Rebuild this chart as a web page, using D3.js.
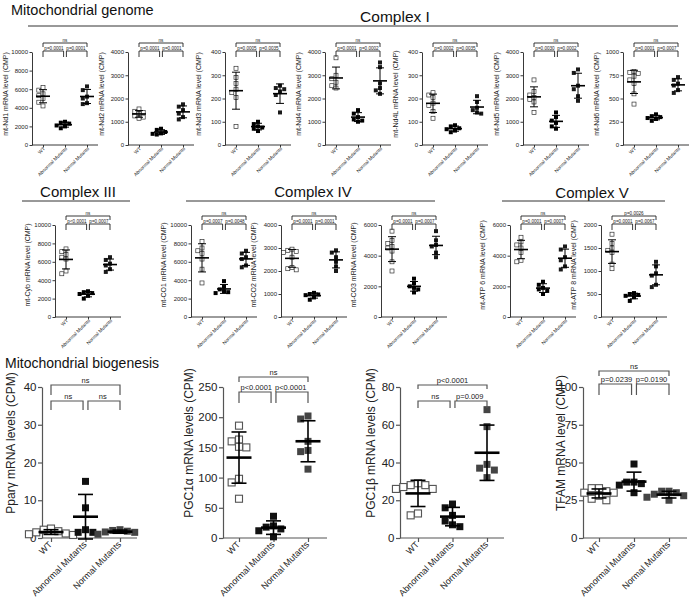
<!DOCTYPE html>
<html><head><meta charset="utf-8">
<script src="https://cdn.jsdelivr.net/npm/d3@7/dist/d3.min.js"></script>
<style>body{margin:0;background:#fff} svg{display:block;font-family:"Liberation Sans",Arial,sans-serif}</style>
</head><body><svg id="c" width="690" height="599"></svg>
<script>
const groups = ["WT", "Abnormal Mutants", "Normal Mutants"];

// Complex I
const nd1WT = [6200, 5900, 5500, 5300, 5000, 4600, 4200], nd1Abn = [2500, 2400, 2300, 2100, 2000, 1800], nd1Norm = [6300, 5900, 5200, 5000, 4500, 4400];
const nd2WT = [1550, 1450, 1400, 1350, 1250, 1200, 1150], nd2Abn = [700, 650, 560, 500, 480, 450], nd2Norm = [1750, 1650, 1500, 1350, 1200, 1100];
const nd3WT = [330, 290, 265, 240, 225, 205, 80], nd3Abn = [100, 90, 80, 75, 70, 60], nd3Norm = [255, 245, 240, 230, 215, 140];
const nd4WT = [3750, 3000, 2850, 2700, 2550, 2450], nd4Abn = [1500, 1350, 1200, 1100, 1050, 1000], nd4Norm = [3550, 3350, 2650, 2450, 2350, 2200];
const nd4lWT = [225, 215, 205, 180, 170, 145, 115], nd4lAbn = [85, 80, 72, 68, 62, 55], nd4lNorm = [210, 185, 160, 150, 140, 135];
const nd5WT = [2800, 2300, 2150, 2050, 1950, 1850, 1400], nd5Abn = [1400, 1200, 1050, 950, 800, 700], nd5Norm = [3250, 3100, 2550, 2400, 2100, 1900];
const nd6WT = [790, 780, 770, 740, 700, 660, 550, 440], nd6Abn = [330, 310, 300, 290, 280, 260], nd6Norm = [730, 700, 660, 640, 590, 560];
// Complex III, IV, V
const cybWT = [7400, 7100, 6800, 6500, 6300, 5000, 4700], cybAbn = [2800, 2700, 2600, 2500, 2300, 2000], cybNorm = [6500, 6200, 5800, 5600, 5200, 4900];
const co1WT = [8200, 7500, 7200, 6900, 6300, 5200, 3700], co1Abn = [3900, 3300, 3000, 2800, 2700, 2600], co1Norm = [7200, 6900, 6500, 6300, 5600, 5400];
const co2WT = [2950, 2900, 2850, 2800, 2600, 2150, 2100, 2050], co2Abn = [1050, 1000, 980, 950, 850, 750], co2Norm = [2900, 2800, 2600, 2400, 2200, 2000];
const co3WT = [5600, 5000, 4800, 4600, 4500, 4300, 3600, 3000], co3Abn = [2500, 2200, 2000, 1900, 1800, 1600], co3Norm = [5600, 5000, 4700, 4600, 4200, 3900];
const atp6WT = [5200, 4900, 4700, 4500, 4200, 3700, 3600], atp6Abn = [2300, 2100, 1900, 1800, 1700, 1500], atp6Norm = [4600, 4400, 3900, 3700, 3300, 3100];
const atp8WT = [1800, 1600, 1500, 1450, 1400, 1150, 1050], atp8Abn = [520, 500, 480, 460, 430, 350], atp8Norm = [1200, 1100, 950, 900, 700, 650];
// Mitochondrial biogenesis
const pparWT = [2.5, 2.2, 1.8, 1.5, 1.2, 1.0, 0.8], pparAbn = [15, 8, 2.2, 1.5, 1.5], pparNorm = [2.2, 2.0, 1.8, 1.6, 1.5, 1.0];
const pgc1aWT = [186, 163, 160, 151, 150, 98, 92, 65], pgc1aAbn = [36, 20, 18, 15, 12, 2], pgc1aNorm = [202, 197, 160, 145, 143, 114];
const pgc1bWT = [29, 28, 28, 27, 26, 26, 13, 12], pgc1bAbn = [18, 16, 12, 9, 7, 6], pgc1bNorm = [68, 59, 39, 37, 36, 32];
const tfamWT = [33, 33, 31, 30, 30, 28, 26, 25], tfamAbn = [49, 37, 37, 36, 35, 30], tfamNorm = [31, 31, 30, 29, 28, 27, 25];

// tick labels
const t10k = [0, 2000, 4000, 6000, 8000, 10000], t4k = [0, 1000, 2000, 3000, 4000], t400 = [0, 100, 200, 300, 400];
const t1k = [0, 250, 500, 750, 1000], t6k = [0, 2000, 4000, 6000], t2k = [0, 500, 1000, 1500, 2000];
const t40 = [0, 10, 20, 30, 40], t250 = [0, 50, 100, 150, 200, 250], t80 = [0, 20, 40, 60, 80], t100 = [0, 25, 50, 75, 100];

const svg = d3.select("#c");

const small = {tickFs: 6, labFs: 7, xFs: 4.8, pFs: 4.6, tick: 2.5, ms: 4, meanW: 14, meanT: 1.6, capW: 8, sdT: 1, axW: 0.9, xlx: -1.5, xly: 2.5,
  wtStroke: "#222", wtFill: "#fff", abnFill: "#000", normFill: "#1a1a1a", axColor: "#222"};
const big = {tickFs: 11.5, labFs: 12, xFs: 9, pFs: 7.5, tick: 4, ms: 7, meanW: 25, meanT: 2.6, capW: 15, sdT: 1.6, axW: 1.2, xlx: -4.2, xly: 2.6,
  wtStroke: "#555", wtFill: "#fff", abnFill: "#111", normFill: "#444", axColor: "#555"};

const topAx = [32, 128, 225, 325, 422, 523, 623];
const topPanels = [
  {label: "mt-Nd1 mRNA level (CMP)", data: [nd1WT, nd1Abn, nd1Norm], max: 10000, ticks: t10k, p: ["ns", "p=0.0001", "p=0.0001"]},
  {label: "mt-Nd2 mRNA level (CMP)", data: [nd2WT, nd2Abn, nd2Norm], max: 4000, ticks: t4k, p: ["ns", "p=0.0001", "p=0.0001"]},
  {label: "mt-Nd3 mRNA level (CMP)", data: [nd3WT, nd3Abn, nd3Norm], max: 400, ticks: t400, p: ["ns", "p=0.0005", "p=0.0035"]},
  {label: "mt-Nd4 mRNA level (CMP)", data: [nd4WT, nd4Abn, nd4Norm], max: 4000, ticks: t4k, p: ["ns", "p=0.0001", "p=0.0002"]},
  {label: "mt-Nd4L mRNA level (CMP)", data: [nd4lWT, nd4lAbn, nd4lNorm], max: 400, ticks: t400, p: ["ns", "p=0.0002", "p=0.0035"]},
  {label: "mt-Nd5 mRNA level (CMP)", data: [nd5WT, nd5Abn, nd5Norm], max: 4000, ticks: t4k, p: ["ns", "p=0.0030", "p=0.0002"]},
  {label: "mt-Nd6 mRNA level (CMP)", data: [nd6WT, nd6Abn, nd6Norm], max: 1000, ticks: t1k, p: ["ns", "p=0.0001", "p=0.0007"]}
];
const midAx = [55, 191, 281, 381, 510, 601];
const midPanels = [
  {label: "mt-Cyb mRNA level (CMP)", data: [cybWT, cybAbn, cybNorm], max: 10000, ticks: t10k, p: ["ns", "p<0.0001", "p=0.0007"]},
  {label: "mt-CO1 mRNA level (CMP)", data: [co1WT, co1Abn, co1Norm], max: 10000, ticks: t10k, p: ["ns", "p=0.0007", "p=0.0048"]},
  {label: "mt-CO2 mRNA level (CMP)", data: [co2WT, co2Abn, co2Norm], max: 4000, ticks: t4k, p: ["ns", "p=0.0001", "p=0.0001"]},
  {label: "mt-CO3 mRNA level (CMP)", data: [co3WT, co3Abn, co3Norm], max: 6000, ticks: t6k, p: ["ns", "p=0.0001", "p=0.0007"]},
  {label: "mt-ATP 6 mRNA level (CMP)", data: [atp6WT, atp6Abn, atp6Norm], max: 6000, ticks: t6k, p: ["ns", "p=0.0001", "p=0.0007"]},
  {label: "mt-ATP 8 mRNA level (CMP)", data: [atp8WT, atp8Abn, atp8Norm], max: 2000, ticks: t2k, p: ["p=0.0026", "p=0.0001", "p=0.0067"]}
];
const botPanels = [
  {label: "Pparγ mRNA levels (CPM)", data: [pparWT, pparAbn, pparNorm], max: 40, ticks: t40, p: ["ns", "ns", "ns"],
   ax: 42, w: 95, c0: 9, c2: 78, lab: -31, br: [385, 395, 401, 410]},
  {label: "PGC1α mRNA levels (CPM)", data: [pgc1aWT, pgc1aAbn, pgc1aNorm], max: 250, ticks: t250, p: ["ns", "p<0.0001", "p<0.0001"],
   ax: 223, w: 104, c0: 16, c2: 85, lab: -34, br: [377, 382, 392, 403]},
  {label: "PGC1β mRNA levels (CPM)", data: [pgc1bWT, pgc1bAbn, pgc1bNorm], max: 80, ticks: t80, p: ["p<0.0001", "ns", "p=0.009"],
   ax: 400, w: 104, c0: 18, c2: 87, lab: -29, br: [385, 389, 401, 408]},
  {label: "TFAM mRNA  level (CMP)", data: [tfamWT, tfamAbn, tfamNorm], max: 100, ticks: t100, p: ["ns", "p=0.0239", "p=0.0190"],
   ax: 583, w: 104, c0: 16, c2: 86, lab: -22, br: [371, 376, 384, 395]}
];

function swarm(vals, y, cx, size) {
  const pts = vals.map(v => ({v, py: y(v)})).sort((a, b) => a.py - b.py);
  const placed = [];
  const step = size * 1.05;
  pts.forEach(p => {
    for (let k = 0; k < 30; k++) {
      const off = k === 0 ? 0 : (k % 2 ? -1 : 1) * Math.ceil(k / 2) * step;
      const px = cx + off;
      if (!placed.some(q => Math.abs(q.px - px) < size && Math.abs(q.py - p.py) < size)) { p.px = px; placed.push(p); break; }
    }
  });
  return placed;
}

function drawPanel(cfg, st, y0, yTop, br, labY) {
  const g = svg.append("g");
  const x = d3.scalePoint().domain(groups).range([cfg.ax + cfg.c0, cfg.ax + cfg.c2]);
  const y = d3.scaleLinear().domain([0, cfg.max]).range([y0, yTop]);
  // y axis
  const ya = g.append("g").attr("transform", `translate(${cfg.ax},0)`)
    .call(d3.axisLeft(y).tickValues(cfg.ticks).tickSize(st.tick).tickSizeOuter(0).tickPadding(1.5).tickFormat(d3.format("d")));
  ya.selectAll("text").attr("font-size", st.tickFs).attr("font-family", "inherit").attr("fill", "#222");
  ya.selectAll("line,path").attr("stroke", st.axColor).attr("stroke-width", st.axW);
  // x axis
  const xa = g.append("g").attr("transform", `translate(0,${y0})`)
    .call(d3.axisBottom(x).tickSize(st.tick).tickSizeOuter(0));
  xa.select(".domain").remove();
  xa.append("line").attr("x1", cfg.ax).attr("x2", cfg.ax + cfg.w).attr("stroke", st.axColor).attr("stroke-width", st.axW);
  xa.selectAll("line").attr("stroke", st.axColor).attr("stroke-width", st.axW);
  xa.selectAll(".tick text").attr("font-size", st.xFs).attr("font-family", "inherit").attr("fill", "#222")
    .attr("text-anchor", "end").attr("x", st.xlx).attr("y", st.xly).attr("dy", "0.35em")
    .attr("transform", "rotate(-45)");
  // y label
  g.append("text").attr("transform", `translate(${cfg.ax + cfg.lab},${labY}) rotate(-90)`)
    .attr("text-anchor", "middle").attr("dy", "0.35em").attr("font-size", st.labFs).attr("fill", "#222").text(cfg.label);
  // points
  cfg.data.forEach((vals, gi) => {
    const cx = x(groups[gi]);
    const pts = swarm(vals, y, cx, st.ms);
    g.selectAll(null).data(pts).join("rect")
      .attr("x", d => d.px - st.ms / 2).attr("y", d => d.py - st.ms / 2)
      .attr("width", st.ms).attr("height", st.ms)
      .attr("fill", gi === 0 ? st.wtFill : gi === 1 ? st.abnFill : st.normFill)
      .attr("stroke", gi === 0 ? st.wtStroke : "none").attr("stroke-width", gi === 0 ? st.ms * 0.16 : 0);
    const m = d3.mean(vals), sd = d3.deviation(vals);
    const lc = "#000";
    g.append("line").attr("x1", cx).attr("x2", cx).attr("y1", y(m + sd)).attr("y2", y(Math.max(m - sd, cfg.max * -0.02)))
      .attr("stroke", lc).attr("stroke-width", st.sdT);
    [m + sd, m - sd].forEach(v => g.append("line").attr("x1", cx - st.capW / 2).attr("x2", cx + st.capW / 2)
      .attr("y1", y(v)).attr("y2", y(v)).attr("stroke", lc).attr("stroke-width", st.sdT));
    g.append("line").attr("x1", cx - st.meanW / 2).attr("x2", cx + st.meanW / 2).attr("y1", y(m)).attr("y2", y(m))
      .attr("stroke", lc).attr("stroke-width", st.meanT);
  });
  // brackets
  const [oY, oE, iY, iE] = br;
  const a = x(groups[0]), b = x(groups[1]), c = x(groups[2]);
  const gap = st.ms * 0.35;
  const path = (x1, x2, ly, ey) => `M${x1},${ey}V${ly}H${x2}V${ey}`;
  [[a, c, oY, oE], [a, b - gap, iY, iE], [b + gap, c, iY, iE]].forEach(([x1, x2, ly, ey]) =>
    g.append("path").attr("d", path(x1, x2, ly, ey)).attr("fill", "none").attr("stroke", st.axColor).attr("stroke-width", st.axW));
  g.append("text").attr("x", (a + c) / 2).attr("y", oY - st.pFs * 0.3).attr("text-anchor", "middle").attr("font-size", st.pFs).attr("fill", "#222").text(cfg.p[0]);
  g.append("text").attr("x", (a + b) / 2).attr("y", iY - st.pFs * 0.25).attr("text-anchor", "middle").attr("font-size", st.pFs).attr("fill", "#222").text(cfg.p[1]);
  g.append("text").attr("x", (b + c) / 2).attr("y", iY - st.pFs * 0.25).attr("text-anchor", "middle").attr("font-size", st.pFs).attr("fill", "#222").text(cfg.p[2]);
}

topPanels.forEach((p, i) => drawPanel(Object.assign({ax: topAx[i], w: 66, c0: 11, c2: 55, lab: -26}, p), small, 145, 52, [43, 47, 51, 57], 94));
midPanels.forEach((p, i) => drawPanel(Object.assign({ax: midAx[i], w: 66, c0: 11, c2: 55, lab: -27}, p), small, 317, 225, [216, 220, 224, 230], 265));
botPanels.forEach(p => drawPanel(p, big, 538, 387, p.br, 443));

// titles and section lines
function title(txt, x, y, fs, anchor) {
  svg.append("text").attr("x", x).attr("y", y).attr("font-size", fs).attr("text-anchor", anchor || "start").attr("fill", "#111").text(txt);
}
title("Mitochondrial genome", 11, 15, 14.5);
title("Complex I", 395, 22, 15.5, "middle");
title("Complex III", 78, 197, 15, "middle");
title("Complex IV", 313, 197, 15, "middle");
title("Complex V", 592, 198, 15, "middle");
title("Mitochondrial biogenesis", 5, 368, 14);
[[28, 678, 26], [22, 130, 201], [186, 435, 201], [502, 665, 201]].forEach(([x1, x2, yy]) =>
  svg.append("line").attr("x1", x1).attr("x2", x2).attr("y1", yy).attr("y2", yy).attr("stroke", "#333").attr("stroke-width", 1));
</script></body></html>
